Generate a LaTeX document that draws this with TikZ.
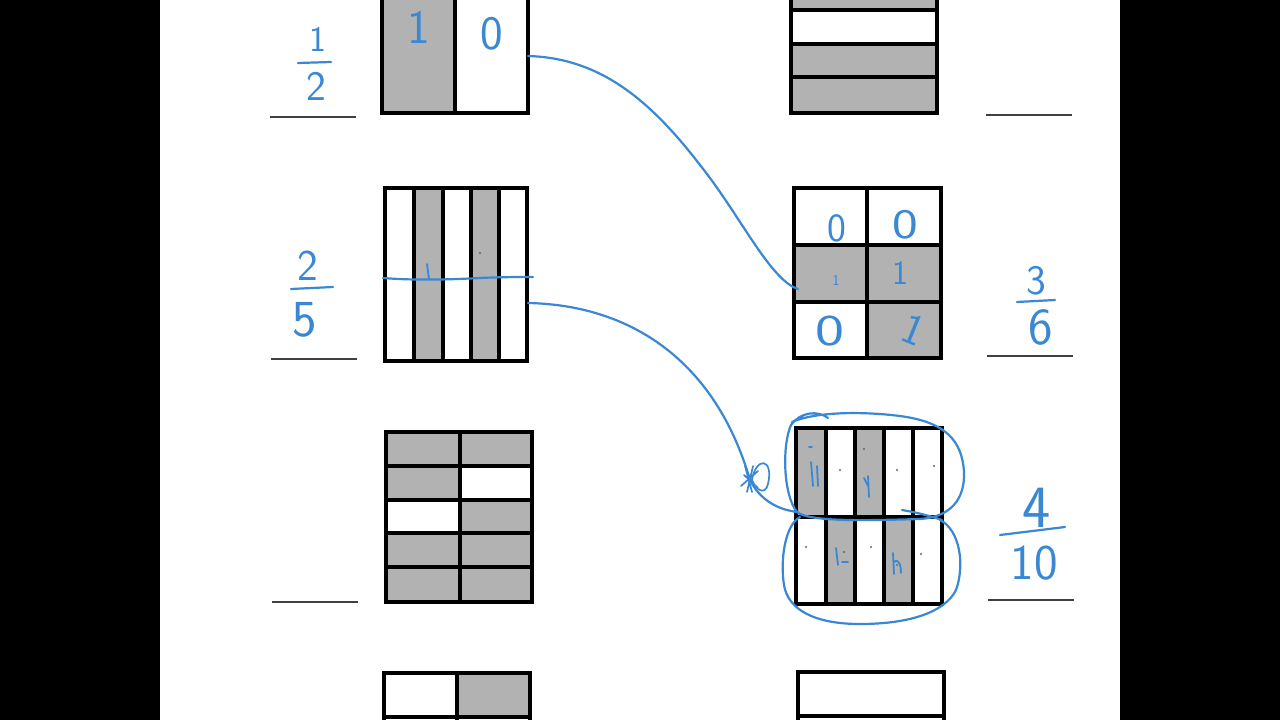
\documentclass[tikz,border=0pt]{standalone}
\usepackage{fontspec}
\usepackage{tikz}
\usetikzlibrary{positioning}
\definecolor{inkblue}{RGB}{58,136,212}
\definecolor{cellgray}{RGB}{178,178,178}
\tikzset{
    grid_line/.style={
        line width=3.6pt, draw=black
    },
    cell_fill/.style={
        fill=cellgray
    },
    ink_line/.style={
        line width=2.2pt, draw=inkblue, line cap=round, line join=round
    },
    ink_digit/.style={
        inner sep=0pt, text=inkblue, font=\sffamily\fontsize{44}{44}\selectfont
    },
    answer_line/.style={
        line width=1.8pt, draw=black!75
    },
    pen_dot/.style={
        fill=black!60
    }
}

\begin{document}
\begin{tikzpicture}[x=1pt, y=-1pt]
    \useasboundingbox (0,0) rectangle (1280,720);
    \fill[black] (0,0) rectangle (160,720);
    \fill[black] (1120,0) rectangle (1280,720);
    \fill[white] (160,0) rectangle (1120,720);

    \begin{scope}
    \clip (160,0) rectangle (1120,720);
    % left column of models
    \fill[cell_fill] (382,-20) rectangle (455,113);
    \draw[grid_line] (382,-20) rectangle (528,113);
    \draw[grid_line] (455,-20) -- (455,113);

    \foreach \xa/\xb in {414/443, 471/499}
        \fill[cell_fill] (\xa,188) rectangle (\xb,361);
    \draw[grid_line] (385,188) rectangle (527,361);
    \foreach \x in {414, 443, 471, 499}
        \draw[grid_line] (\x,188) -- (\x,361);

    \fill[cell_fill] (386,432) rectangle (532,602);
    \fill[white] (460,466) rectangle (532,500);
    \fill[white] (386,500) rectangle (460,533);
    \draw[grid_line] (386,432) rectangle (532,602);
    \draw[grid_line] (460,432) -- (460,602);
    \foreach \y in {466, 500, 533, 567}
        \draw[grid_line] (386,\y) -- (532,\y);

    \fill[cell_fill] (457,673) rectangle (530,717);
    \draw[grid_line] (384,740) -- (384,673) -- (530,673) -- (530,740);
    \draw[grid_line] (457,673) -- (457,740);
    \draw[grid_line] (384,717) -- (530,717);

    % right column of models
    \fill[cell_fill] (791,-20) rectangle (937,113);
    \fill[white] (791,10) rectangle (937,44);
    \draw[grid_line] (791,-20) rectangle (937,113);
    \foreach \y in {10, 44, 77}
        \draw[grid_line] (791,\y) -- (937,\y);

    \fill[cell_fill] (794,245) rectangle (941,302);
    \fill[cell_fill] (867,302) rectangle (941,358);
    \draw[grid_line] (794,188) rectangle (941,358);
    \draw[grid_line] (867,188) -- (867,358);
    \foreach \y in {245, 302}
        \draw[grid_line] (794,\y) -- (941,\y);

    \foreach \xa/\xb in {796/826, 855/884}
        \fill[cell_fill] (\xa,428) rectangle (\xb,517);
    \foreach \xa/\xb in {826/855, 884/913}
        \fill[cell_fill] (\xa,517) rectangle (\xb,604);
    \draw[grid_line] (796,428) rectangle (942,604);
    \draw[grid_line] (796,517) -- (942,517);
    \foreach \x in {826, 855, 884, 913}
        \draw[grid_line] (\x,428) -- (\x,604);

    \draw[grid_line] (798,740) -- (798,672) -- (944,672) -- (944,740);
    \draw[grid_line] (798,716) -- (944,716);
    \end{scope}

    % answer blanks
    \foreach \xa/\y in {270/117, 271/359, 272/602, 986/115, 987/356, 988/600}
        \draw[answer_line] (\xa,\y) -- ++(86,0);

    % fractions
    \node[ink_digit, font=\sffamily\fontsize{36}{36}\selectfont] (half_num) at (318,39) {1};
    \node[ink_digit, font=\sffamily\fontsize{42}{42}\selectfont] (half_den) at (316,86) {2};
    \draw[ink_line] (298,63) -- (331,62);

    \node[ink_digit] (fifths_num) at (308,266) {2};
    \node[ink_digit, font=\sffamily\fontsize{52}{52}\selectfont] (fifths_den) at (305,320) {5};
    \draw[ink_line] (291,289) -- (333,287);

    \node[ink_digit, font=\sffamily\fontsize{42}{42}\selectfont] (sixths_num) at (1036,281) {3};
    \node[ink_digit, font=\sffamily\fontsize{52}{52}\selectfont] (sixths_den) at (1041,327) {6};
    \draw[ink_line] (1017,302) -- (1055,300);

    \node[ink_digit, font=\sffamily\fontsize{60}{60}\selectfont] (tenths_num) at (1037,508) {4};
    \node[ink_digit, font=\sffamily\fontsize{50}{50}\selectfont] (tenths_den) at (1034,563) {10};
    \draw[ink_line] (1000,535) -- (1065,527);

    % cell labels
    \node[ink_digit, font=\sffamily\fontsize{48}{48}\selectfont] (half_one) at (419,27) {1};
    \node[ink_digit, font=\sffamily\fontsize{48}{48}\selectfont] (half_zero) at (492,34) {0};

    \node[ink_digit, font=\sffamily\fontsize{40}{40}\selectfont] (six_a) at (837,228) {0};
    \node[ink_digit, font=\sffamily\fontsize{42}{42}\selectfont] (six_b) at (905,225) {\scalebox{1.3}[1]{0}};
    \node[ink_digit, font=\sffamily\fontsize{15}{15}\selectfont] (six_c) at (836,280) {1};
    \node[ink_digit, font=\sffamily\fontsize{34}{34}\selectfont] (six_d) at (900,273) {1};
    \node[ink_digit, font=\sffamily\fontsize{44}{44}\selectfont] (six_e) at (830,331) {\scalebox{1.4}[1]{0}};
    \node[ink_digit, font=\sffamily\fontsize{44}{44}\selectfont, rotate=-22] (six_f) at (914,330) {1};

    % marks on the models
    \draw[ink_line] (383,278) .. controls (420,281) and (460,279) .. (480,278) .. controls (500,277) and (520,277) .. (533,277);
    \draw[ink_line, line width=1.8pt] (427,264) -- (429,279);
    \fill[pen_dot] (480,253) circle (1.2);

    \draw[ink_line, line width=1.8pt] (811,462) -- (813,486) (817,466) -- (818,486) (809,447) -- (812,447);
    \draw[ink_line, line width=1.8pt] (868,476) -- (869,497) (864,478) -- (868,486);
    \draw[ink_line, line width=1.8pt] (836,548) -- (838,565) (842,562) -- (848,562);
    \draw[ink_line, line width=1.8pt] (893,553) -- (894,574) (894,562) .. controls (899,558) and (901,566) .. (901,573);
    \foreach \px/\py in {840/470, 864/449, 897/470, 934/466, 806/547, 871/547, 921/554, 844/552, 897/565}
        \fill[pen_dot] (\px,\py) circle (1.1);

    % loops round the rows of tenths
    \draw[ink_line] (828,418) .. controls (818,410) and (800,412) .. (791,425)
        .. controls (782,445) and (783,495) .. (797,512)
        .. controls (810,523) and (880,520) .. (920,519)
        .. controls (950,517) and (965,500) .. (964,472)
        .. controls (962,440) and (945,422) .. (900,416)
        .. controls (860,411) and (815,412) .. (792,422);
    \draw[ink_line] (902,510) .. controls (915,512) and (930,516) .. (942,520);
    \draw[ink_line] (800,517) .. controls (785,525) and (780,560) .. (784,585)
        .. controls (788,610) and (815,624) .. (860,624)
        .. controls (910,624) and (945,612) .. (956,590)
        .. controls (965,565) and (960,530) .. (940,520);

    % connectors
    \coordinate (half_out) at (528,56);
    \coordinate (sixths_in) at (798,289);
    \coordinate (fifths_out) at (528,303);
    \coordinate (scribble) at (750,480);
    \coordinate (tenths_in) at (798,512);

    \draw[ink_line] (half_out) .. controls (600,58) and (650,100) .. (700,165)
        .. controls (740,215) and (770,280) .. (sixths_in);
    \draw[ink_line] (fifths_out) .. controls (630,305) and (715,360) .. (scribble)
        .. controls (760,500) and (778,510) .. (tenths_in);
    \draw[ink_line, line width=1.7pt] (745,466) -- (752,492) (741,486) -- (758,471) (744,475) -- (758,488) (753,466) -- (747,492)
        (752,480) .. controls (756,456) and (774,458) .. (768,484) .. controls (765,496) and (756,490) .. (752,480);
\end{tikzpicture}
\end{document}
